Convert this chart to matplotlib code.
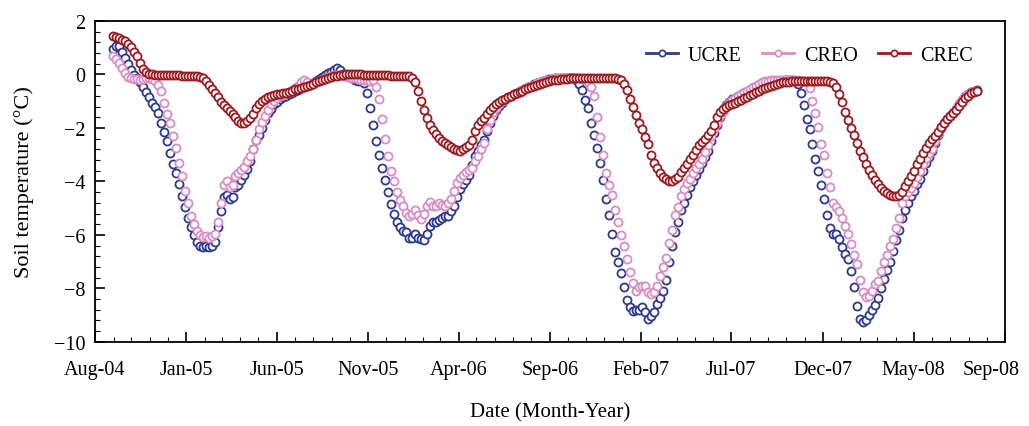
import matplotlib
matplotlib.use('Agg')
import matplotlib.pyplot as plt
import matplotlib.dates as mdates
import matplotlib.transforms as mtrans
from matplotlib.lines import Line2D
from matplotlib.ticker import MultipleLocator, FixedLocator
import pandas as pd

plt.rcParams['font.family'] = ['Liberation Serif', 'DejaVu Serif']

# daily records at a 5-day step, first reading on 31 Aug 2004
start_date = '2004-08-31'
step = '5D'

ucre = [0.95, 1.05, 1.08, 0.85, 0.62, 0.40, 0.17, -0.02, -0.15, -0.30,
        -0.45, -0.65, -0.85, -1.05, -1.22, -1.45, -1.80, -2.15, -2.50, -2.95,
        -3.35, -3.70, -4.10, -4.55, -4.95, -5.35, -5.70, -6.00, -6.25, -6.40,
        -6.45, -6.40, -6.45, -6.42, -6.25, -5.70, -5.10, -4.60, -4.50, -4.65,
        -4.60, -4.22, -4.12, -3.95, -3.75, -3.52, -3.25, -2.80, -2.45, -2.28,
        -2.02, -1.72, -1.45, -1.28, -1.12, -1.02, -0.93, -0.85, -0.80, -0.74,
        -0.68, -0.62, -0.57, -0.52, -0.47, -0.43, -0.39, -0.33, -0.25, -0.17,
        -0.10, -0.03, 0.04, 0.10, 0.18, 0.24, 0.15, 0.02, -0.06, -0.10,
        -0.15, -0.19, -0.23, -0.26, -0.32, -0.70, -1.25, -1.90, -2.50, -3.00,
        -3.50, -3.95, -4.40, -4.85, -5.20, -5.50, -5.70, -5.85, -5.90, -6.10,
        -6.10, -5.95, -6.10, -6.15, -6.20, -5.95, -5.65, -5.50, -5.50, -5.45,
        -5.35, -5.30, -5.28, -5.10, -4.90, -4.60, -4.30, -4.10, -3.95, -3.75,
        -3.40, -3.05, -2.85, -2.65, -2.45, -2.10, -1.80, -1.55, -1.32, -1.18,
        -1.05, -0.93, -0.86, -0.80, -0.74, -0.68, -0.63, -0.58, -0.53, -0.47,
        -0.42, -0.37, -0.32, -0.27, -0.23, -0.20, -0.18, -0.16, -0.15, -0.14,
        -0.13, -0.12, -0.12, -0.13, -0.15, -0.20, -0.35, -0.58, -0.95, -1.25,
        -1.80, -2.25, -2.75, -3.30, -3.95, -4.65, -5.25, -5.95, -6.65, -7.00,
        -7.42, -7.95, -8.45, -8.70, -8.85, -8.80, -8.80, -8.70, -8.90, -9.15,
        -9.05, -8.90, -8.60, -8.35, -8.10, -7.70, -7.00, -6.40, -5.90, -5.50,
        -5.05, -4.80, -4.50, -4.22, -4.00, -3.75, -3.55, -3.32, -3.10, -2.87,
        -2.50, -2.18, -1.90, -1.60, -1.38, -1.14, -1.02, -0.93, -0.87, -0.82,
        -0.76, -0.70, -0.64, -0.58, -0.52, -0.46, -0.41, -0.37, -0.33, -0.30,
        -0.28, -0.26, -0.25, -0.24, -0.23, -0.22, -0.22, -0.22, -0.24, -0.35,
        -0.70, -1.15, -1.65, -2.05, -2.60, -3.15, -3.60, -4.15, -4.65, -5.25,
        -5.75, -5.98, -5.98, -6.15, -6.45, -6.70, -6.90, -7.35, -7.95, -8.65,
        -9.15, -9.25, -9.20, -9.00, -8.80, -8.62, -8.35, -8.00, -7.65, -7.30,
        -7.00, -6.60, -6.20, -5.80, -5.35, -5.05, -4.80, -4.55, -4.35, -4.10,
        -3.90, -3.60, -3.30, -3.10, -2.87, -2.55, -2.28, -2.02, -1.82, -1.68,
        -1.56, -1.45, -1.30, -1.12, -0.96, -0.82, -0.73, -0.65, -0.60, -0.58]

creo = [0.69, 0.58, 0.42, 0.25, 0.06, -0.08, -0.12, -0.16, -0.18, -0.19,
        -0.18, -0.15, -0.13, -0.18, -0.25, -0.38, -0.60, -1.05, -1.48, -1.80,
        -2.30, -2.75, -3.30, -3.80, -4.35, -4.80, -5.28, -5.60, -5.85, -6.00,
        -6.08, -6.05, -6.10, -6.05, -5.95, -5.50, -4.80, -4.15, -4.00, -4.20,
        -4.15, -3.80, -3.68, -3.58, -3.45, -3.25, -3.05, -2.78, -2.45, -2.05,
        -1.78, -1.55, -1.32, -1.10, -0.98, -0.88, -0.82, -0.75, -0.70, -0.65,
        -0.58, -0.50, -0.42, -0.30, -0.20, -0.28, -0.38, -0.36, -0.30, -0.24,
        -0.19, -0.14, -0.10, -0.06, -0.03, -0.02, -0.03, -0.04, -0.06, -0.09,
        -0.12, -0.15, -0.18, -0.20, -0.21, -0.22, -0.23, -0.20, -0.45, -0.90,
        -1.65, -2.40, -3.05, -3.60, -4.00, -4.40, -4.70, -4.92, -5.18, -5.28,
        -5.22, -5.05, -5.25, -5.40, -5.20, -4.90, -4.78, -4.92, -4.90, -4.80,
        -4.88, -4.92, -4.80, -4.65, -4.35, -4.05, -3.88, -3.75, -3.65, -3.58,
        -3.50, -3.25, -3.05, -2.80, -2.55, -2.05, -1.70, -1.42, -1.25, -1.12,
        -1.00, -0.92, -0.86, -0.80, -0.74, -0.68, -0.62, -0.57, -0.52, -0.47,
        -0.42, -0.38, -0.33, -0.29, -0.25, -0.22, -0.19, -0.17, -0.15, -0.14,
        -0.13, -0.12, -0.12, -0.12, -0.12, -0.12, -0.14, -0.17, -0.22, -0.30,
        -0.45, -0.80, -1.60, -2.35, -3.00, -3.70, -4.15, -4.50, -5.05, -5.50,
        -6.00, -6.40, -6.90, -7.40, -7.80, -8.10, -7.95, -7.90, -7.90, -8.15,
        -8.20, -8.15, -7.90, -7.55, -7.20, -6.85, -6.30, -5.80, -5.25, -4.95,
        -4.55, -4.30, -4.05, -3.90, -3.70, -3.50, -3.35, -3.15, -2.90, -2.62,
        -2.30, -2.05, -1.80, -1.55, -1.35, -1.18, -1.05, -0.95, -0.87, -0.80,
        -0.73, -0.66, -0.60, -0.54, -0.48, -0.42, -0.36, -0.30, -0.26, -0.23,
        -0.21, -0.20, -0.19, -0.19, -0.19, -0.19, -0.20, -0.20, -0.21, -0.22,
        -0.23, -0.24, -0.28, -0.50, -1.00, -1.45, -1.95, -2.60, -3.00, -3.70,
        -4.20, -4.80, -4.95, -5.10, -5.36, -5.65, -5.95, -6.35, -6.75, -7.10,
        -7.70, -8.15, -8.33, -8.30, -8.10, -7.85, -7.72, -7.35, -7.00, -6.75,
        -6.40, -6.15, -5.75, -5.35, -4.80, -4.55, -4.40, -4.25, -4.05, -3.85,
        -3.62, -3.35, -3.12, -2.95, -2.78, -2.50, -2.22, -1.98, -1.80, -1.65,
        -1.53, -1.42, -1.28, -1.10, -0.95, -0.82, -0.73, -0.66, -0.62, -0.60]

crec = [1.43, 1.40, 1.35, 1.30, 1.25, 1.15, 1.03, 0.85, 0.68, 0.43,
        0.22, 0.08, 0.01, 0.0, -0.01, -0.01, -0.02, -0.02, -0.02, -0.03,
        -0.03, -0.03, -0.03, -0.04, -0.04, -0.04, -0.05, -0.05, -0.06, -0.08,
        -0.15, -0.25, -0.40, -0.55, -0.70, -0.85, -1.02, -1.15, -1.25, -1.36,
        -1.48, -1.60, -1.75, -1.80, -1.82, -1.75, -1.63, -1.48, -1.25, -1.10,
        -1.00, -0.93, -0.86, -0.80, -0.76, -0.74, -0.72, -0.70, -0.68, -0.64,
        -0.60, -0.56, -0.53, -0.49, -0.46, -0.43, -0.40, -0.36, -0.30, -0.25,
        -0.21, -0.17, -0.13, -0.10, -0.07, -0.05, -0.03, -0.01, 0.0, 0.0,
        0.0, 0.0, 0.0, 0.0, -0.01, -0.01, -0.01, -0.02, -0.02, -0.02,
        -0.03, -0.03, -0.03, -0.04, -0.04, -0.05, -0.05, -0.06, -0.06, -0.07,
        -0.12, -0.30, -0.62, -0.98, -1.32, -1.62, -1.88, -2.08, -2.22, -2.36,
        -2.47, -2.56, -2.64, -2.71, -2.77, -2.82, -2.86, -2.80, -2.70, -2.62,
        -2.45, -2.10, -1.90, -1.75, -1.62, -1.48, -1.33, -1.20, -1.09, -1.03,
        -0.97, -0.91, -0.86, -0.80, -0.74, -0.68, -0.64, -0.60, -0.56, -0.52,
        -0.48, -0.44, -0.40, -0.35, -0.31, -0.28, -0.25, -0.22, -0.20, -0.19,
        -0.18, -0.17, -0.16, -0.15, -0.14, -0.13, -0.13, -0.12, -0.12, -0.12,
        -0.12, -0.12, -0.12, -0.12, -0.12, -0.12, -0.13, -0.14, -0.15, -0.17,
        -0.20, -0.35, -0.58, -0.90, -1.22, -1.52, -1.80, -2.05, -2.32, -2.60,
        -3.00, -3.30, -3.50, -3.70, -3.84, -3.92, -3.97, -3.97, -3.92, -3.82,
        -3.66, -3.50, -3.33, -3.16, -3.00, -2.82, -2.65, -2.52, -2.42, -2.28,
        -2.10, -1.90, -1.60, -1.42, -1.30, -1.22, -1.16, -1.10, -1.05, -1.00,
        -0.94, -0.88, -0.83, -0.78, -0.73, -0.67, -0.60, -0.55, -0.50, -0.46,
        -0.42, -0.38, -0.35, -0.32, -0.30, -0.28, -0.27, -0.26, -0.25, -0.25,
        -0.25, -0.24, -0.24, -0.23, -0.23, -0.23, -0.24, -0.24, -0.25, -0.26,
        -0.28, -0.33, -0.45, -0.72, -1.02, -1.40, -1.72, -2.00, -2.28, -2.55,
        -2.85, -3.10, -3.35, -3.58, -3.75, -3.95, -4.10, -4.25, -4.37, -4.45,
        -4.50, -4.54, -4.55, -4.50, -4.38, -4.18, -3.98, -3.80, -3.60, -3.36,
        -3.15, -2.93, -2.74, -2.58, -2.43, -2.30, -2.15, -1.98, -1.82, -1.68,
        -1.56, -1.45, -1.32, -1.17, -1.02, -0.88, -0.79, -0.70, -0.64, -0.60]

tick_dates = ['2004-08-01', '2005-01-01', '2005-06-01', '2005-11-01', '2006-04-01', '2006-09-01',
              '2007-02-01', '2007-07-01', '2007-12-01', '2008-05-01', '2008-10-01']
tick_labels = ['Aug-04', 'Jan-05', 'Jun-05', 'Nov-05', 'Apr-06', 'Sep-06',
               'Feb-07', 'Jul-07', 'Dec-07', 'May-08', 'Sep-08']

series = [('UCRE', ucre, '#2c3a8f'), ('CREO', creo, '#d98cc3'), ('CREC', crec, '#9a1a1f')]

fig = plt.figure(figsize=(10.29, 4.27), dpi=100)
ax = fig.add_axes([0.0923, 0.197, 0.8844, 0.7515])

handles = []
for name, vals, col in series:
    dates = pd.date_range(start_date, periods=len(vals), freq=step)
    ax.plot(dates, vals, linestyle='none', marker='o', markersize=5.8,
            markerfacecolor='white', markeredgecolor=col, markeredgewidth=1.3)
    handles.append(Line2D([], [], color=col, linewidth=2, marker='o', markersize=4.5,
                          markerfacecolor='white', markeredgecolor=col, markeredgewidth=1.2,
                          label=name))

ax.set_xlim(pd.Timestamp('2004-08-01'), pd.Timestamp('2008-10-01'))
ax.set_ylim(-10, 2)

tick_pos = [mdates.date2num(pd.Timestamp(d)) for d in tick_dates]
ax.xaxis.set_major_locator(FixedLocator(tick_pos))
ax.set_xticklabels(tick_labels)
ax.xaxis.set_minor_locator(mdates.MonthLocator())
ax.yaxis.set_major_locator(MultipleLocator(2))
ax.yaxis.set_minor_locator(MultipleLocator(0.4))

ax.tick_params(axis='both', which='major', direction='in', length=7, width=1.2,
               labelsize=14.5)
ax.tick_params(axis='x', which='major', pad=13)
ax.tick_params(axis='y', which='major', pad=7)
ax.tick_params(axis='both', which='minor', direction='in', length=3.5, width=0.8)
for sp in ax.spines.values():
    sp.set_linewidth(1.3)

# the last label sits a little left of the right edge
last = ax.get_xticklabels()[-1]
last.set_transform(last.get_transform() + mtrans.ScaledTranslation(-10 / 72, 0, fig.dpi_scale_trans))

ax.set_xlabel('Date (Month-Year)', fontsize=15, labelpad=17)
ax.set_ylabel('Soil temperature (°C)', fontsize=16, labelpad=14)

ax.legend(handles=handles, loc='upper right', ncol=3, frameon=False, fontsize=14.5,
          handlelength=1.6, handletextpad=0.5, columnspacing=1.0,
          bbox_to_anchor=(0.985, 0.98))

fig.savefig('out.png', dpi=100)
